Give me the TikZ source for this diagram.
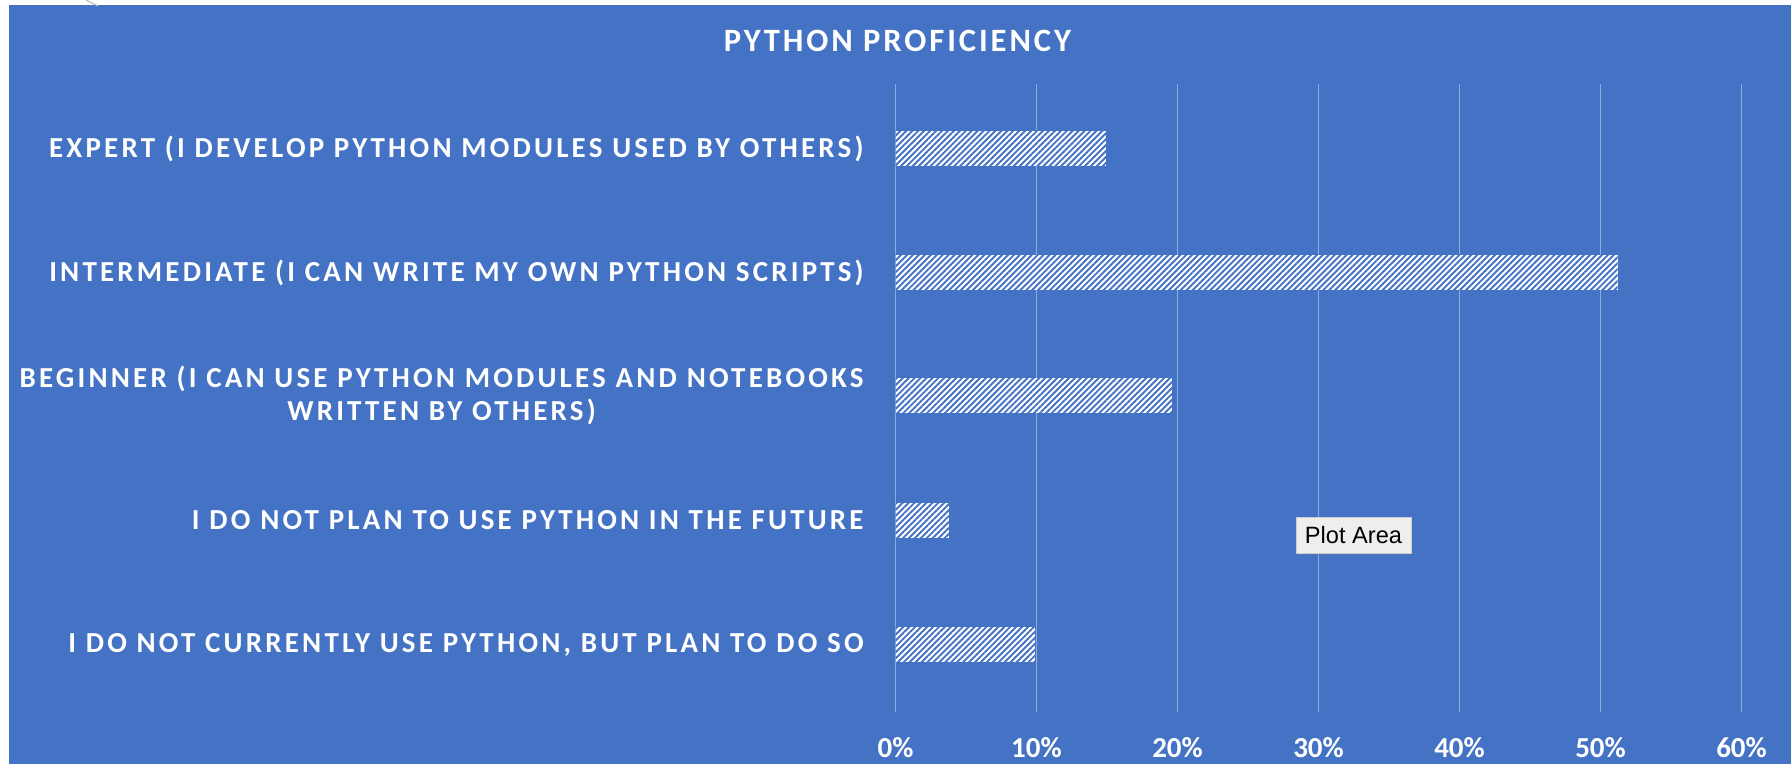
\documentclass[tikz,border=0pt]{standalone}
\usepackage{fontspec}
\setmainfont{Carlito}
\newfontfamily\spacedfont[LetterSpace=11]{Carlito}
\newfontfamily\titlefont[LetterSpace=9]{Carlito}
\newfontfamily\tipfont{Liberation Sans}
\usetikzlibrary{patterns.meta, shadows}
\definecolor{chartblue}{HTML}{4472C4}
\definecolor{gridblue}{HTML}{8FAADC}
\definecolor{tipgray}{HTML}{EEEEEC}
\tikzstyle{catlabel} = [anchor=east, inner sep=0pt, text=white, align=center, font=\spacedfont\bfseries\fontsize{14.5}{16.5}\selectfont]
\tikzstyle{ticklabel} = [inner sep=0pt, text=white, font=\bfseries\fontsize{14.5}{16.5}\selectfont]
\tikzstyle{titlelabel} = [inner sep=0pt, text=white, font=\titlefont\bfseries\fontsize{16.3}{19}\selectfont]
\tikzstyle{bar} = [fill=white, postaction={pattern={Lines[angle=45, distance=2.1pt, line width=0.95pt]}, pattern color=chartblue}]
\tikzstyle{gridline} = [draw=gridblue, line width=0.8pt]
\tikzstyle{tooltip} = [rectangle, fill=tipgray, draw=gray!40, line width=0.3pt, minimum width=57.5pt, minimum height=18pt, inner sep=0pt, font=\tipfont\fontsize{11.8}{13}\selectfont, drop shadow={shadow xshift=0.6pt, shadow yshift=-0.8pt, opacity=0.25}]

\begin{document}
\begin{tikzpicture}[x=0.5pt, y=-0.5pt]
        \useasboundingbox (0,0) rectangle (1791,764);
        % Chart area
        \fill[chartblue] (9,5) rectangle (1791,764);
        \draw[gray!50, line width=0.6pt] (86,0) -- (98,6);

        % Title
        \node (title) [titlelabel] at (897.5,41) {PYTHON PROFICIENCY};

        % Gridlines
        \draw [gridline] (895.5,84) -- (895.5,712);
        \draw [gridline] (1036.5,84) -- (1036.5,712);
        \draw [gridline] (1177.5,84) -- (1177.5,712);
        \draw [gridline] (1318.5,84) -- (1318.5,712);
        \draw [gridline] (1459.5,84) -- (1459.5,712);
        \draw [gridline] (1600.5,84) -- (1600.5,712);
        \draw [gridline] (1741.5,84) -- (1741.5,712);

        % Axis labels
        \node (p0) [ticklabel] at (895.5,748) {0\%};
        \node (p10) [ticklabel] at (1036.5,748) {10\%};
        \node (p20) [ticklabel] at (1177.5,748) {20\%};
        \node (p30) [ticklabel] at (1318.5,748) {30\%};
        \node (p40) [ticklabel] at (1459.5,748) {40\%};
        \node (p50) [ticklabel] at (1600.5,748) {50\%};
        \node (p60) [ticklabel] at (1741.5,748) {60\%};

        % Categories
        \node (expert) [catlabel] at (864,148.5) {EXPERT (I DEVELOP PYTHON MODULES USED BY OTHERS)};
        \node (intermediate) [catlabel] at (864,272.5) {INTERMEDIATE (I CAN WRITE MY OWN PYTHON SCRIPTS)};
        \node (beginner) [catlabel] at (864,395.5) {BEGINNER (I CAN USE PYTHON MODULES AND NOTEBOOKS\\WRITTEN BY OTHERS)};
        \node (noplan) [catlabel] at (864,520.5) {I DO NOT PLAN TO USE PYTHON IN THE FUTURE};
        \node (planned) [catlabel] at (864,644.5) {I DO NOT CURRENTLY USE PYTHON, BUT PLAN TO DO SO};

        % Bars
        \path [bar] (895.5,131) rectangle (1106,166);
        \path [bar] (895.5,255) rectangle (1617.5,290);
        \path [bar] (895.5,378) rectangle (1172,413);
        \path [bar] (895.5,503) rectangle (949,538);
        \path [bar] (895.5,627) rectangle (1035,662);

        % Hover tip
        \node (tip) [tooltip] at (1353.5,535) {Plot Area};
      \end{tikzpicture}
\end{document}
